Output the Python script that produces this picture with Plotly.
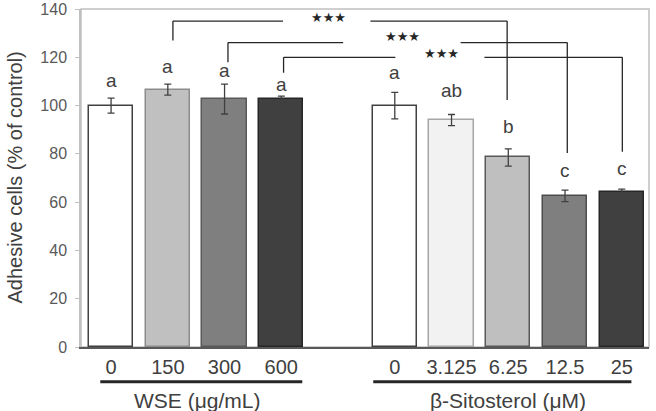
import plotly.graph_objects as go

# ---- data ----
wse_labels = ["0", "150", "300", "600"]
wse_values = [100.0, 106.6, 102.7, 102.7]
wse_errors = [3.1, 2.3, 6.2, 1.2]
wse_letters = ["a", "a", "a", "a"]
wse_letter_y = [110.4, 116.2, 114.5, 108.7]

sit_labels = ["0", "3.125", "6.25", "12.5", "25"]
sit_values = [100.0, 94.0, 78.5, 62.6, 64.4]
sit_errors = [5.5, 2.3, 3.6, 2.4, 1.0]
sit_letters = ["a", "ab", "b", "c", "c"]
sit_letter_y = [113.7, 106.2, 91.3, 73.0, 73.8]

group_titles = ["WSE (μg/mL)", "β-Sitosterol (μM)"]
y_title = "Adhesive cells (% of control)"
sig_text = "★★★"

# ---- positions / styles ----
wse_x = [0, 1, 2, 3]
sit_x = [5, 6, 7, 8, 9]
wse_fill = ["#ffffff", "#c0c0c0", "#7f7f7f", "#404040"]
wse_edge = ["#404040", "#8c8c8c", "#595959", "#262626"]
sit_fill = ["#ffffff", "#f2f2f2", "#bfbfbf", "#7f7f7f", "#404040"]
sit_edge = ["#404040", "#a6a6a6", "#595959", "#4d4d4d", "#262626"]

FONT = "Liberation Sans, Arial, sans-serif"
TXT = "#404040"

fig = go.Figure()
for xs, vals, errs, fills, edges in [
    (wse_x, wse_values, wse_errors, wse_fill, wse_edge),
    (sit_x, sit_values, sit_errors, sit_fill, sit_edge),
]:
    fig.add_trace(go.Bar(
        x=xs, y=vals, width=0.78,
        marker=dict(color=fills, line=dict(color=edges, width=1.5)),
        error_y=dict(type="data", array=errs, visible=True,
                     color="#404040", thickness=1.3, width=3.5),
        showlegend=False, hoverinfo="skip",
    ))

annotations = []
for xs, letters, ly in [(wse_x, wse_letters, wse_letter_y),
                        (sit_x, sit_letters, sit_letter_y)]:
    for x, t, y in zip(xs, letters, ly):
        annotations.append(dict(x=x, y=y, text=t, showarrow=False,
                                xref="x", yref="y", yanchor="middle",
                                font=dict(family=FONT, size=19, color=TXT)))

# significance brackets: (left x, right x, top y, left bottom, right bottom, gap from, gap to, star x, star y)
brackets = [
    (1.09, 6.98, 135.0, 127.0, 102.3, 3.03, 4.57, 3.83, 136.3),
    (2.06, 8.04, 126.1, 117.9, 80.4, 4.09, 6.16, 5.13, 128.7),
    (3.04, 9.01, 120.0, 113.6, 80.9, 5.01, 6.58, 5.82, 121.4),
]
shapes = []
lc = dict(color="#262626", width=1.3)
for lx, rx, ty, lb, rb, g0, g1, sx, sy in brackets:
    shapes.append(dict(type="line", xref="x", yref="y", x0=lx, x1=lx, y0=lb, y1=ty, line=lc))
    shapes.append(dict(type="line", xref="x", yref="y", x0=lx, x1=g0, y0=ty, y1=ty, line=lc))
    shapes.append(dict(type="line", xref="x", yref="y", x0=g1, x1=rx, y0=ty, y1=ty, line=lc))
    shapes.append(dict(type="line", xref="x", yref="y", x0=rx, x1=rx, y0=ty, y1=rb, line=lc))
    annotations.append(dict(x=sx, y=sy, text=sig_text, showarrow=False,
                            xref="x", yref="y", yanchor="middle",
                            font=dict(family="DejaVu Sans", size=13, color="#262626")))

# frame
shapes.append(dict(type="rect", xref="paper", yref="paper", x0=0, x1=1, y0=0, y1=1,
                   line=dict(color="#c0c0c0", width=1.5), layer="below"))
# group underlines and titles
for (x0, x1), title, tx in [((-0.19, 3.37), group_titles[0], 1.51),
                            ((4.62, 9.17), group_titles[1], 7.0)]:
    shapes.append(dict(type="line", xref="x", yref="paper", x0=x0, x1=x1,
                       y0=-0.1027, y1=-0.1027, line=dict(color="#262626", width=3)))
    annotations.append(dict(x=tx, y=-0.157, xref="x", yref="paper", text=title,
                            showarrow=False, yanchor="middle",
                            font=dict(family=FONT, size=21, color=TXT)))

annotations.append(dict(x=-0.117, y=0.5, xref="paper", yref="paper", text=y_title,
                        textangle=-90, showarrow=False, xanchor="center", yanchor="middle",
                        font=dict(family=FONT, size=20, color=TXT)))

fig.update_layout(
    width=656, height=411,
    margin=dict(l=81, r=7, t=9, b=64),
    paper_bgcolor="white", plot_bgcolor="white",
    bargap=0,
    shapes=shapes, annotations=annotations,
    xaxis=dict(range=[-0.53, 9.48], tickvals=wse_x + sit_x, automargin=False,
               ticktext=wse_labels + sit_labels, showgrid=False, zeroline=False,
               showline=True, linecolor="#595959", linewidth=1.5, ticks="",
               tickfont=dict(family=FONT, size=20, color=TXT), ticklabelstandoff=1),
    yaxis=dict(range=[0, 140], dtick=20, showgrid=False, zeroline=False, automargin=False,
               showline=True, linecolor="#c0c0c0", linewidth=1.5,
               ticks="outside", ticklen=4, tickcolor="#c0c0c0", tickwidth=1,
               tickfont=dict(family=FONT, size=16, color="#595959"), ticklabelstandoff=5),
)

fig.write_html("out.html")
